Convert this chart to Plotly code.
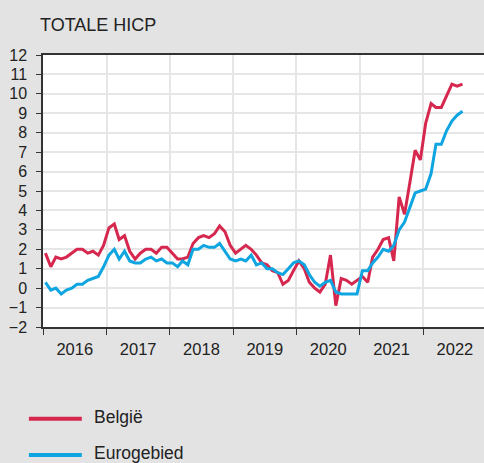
import plotly.graph_objects as go
import pandas as pd

# Monthly dates Jan 2016 - Aug 2022 (plotted at mid-month)
dates = pd.date_range("2016-01-01", periods=80, freq="MS") + pd.Timedelta(days=14)

belgie = [
    1.8, 1.1, 1.6, 1.5, 1.6, 1.8, 2.0, 2.0, 1.8, 1.9, 1.7, 2.2,   # 2016
    3.1, 3.3, 2.5, 2.7, 1.9, 1.5, 1.8, 2.0, 2.0, 1.8, 2.1, 2.1,   # 2017
    1.8, 1.5, 1.5, 1.6, 2.3, 2.6, 2.7, 2.6, 2.8, 3.2, 2.9, 2.2,   # 2018
    1.8, 2.0, 2.2, 2.0, 1.7, 1.3, 1.2, 0.9, 0.8, 0.2, 0.4, 0.9,   # 2019
    1.4, 1.0, 0.3, 0.0, -0.2, 0.2, 1.7, -0.9, 0.5, 0.4, 0.2, 0.4, # 2020
    0.6, 0.3, 1.6, 2.0, 2.5, 2.6, 1.4, 4.7, 3.8, 5.4, 7.1, 6.6,   # 2021
    8.5, 9.5, 9.3, 9.3, 9.9, 10.5, 10.4, 10.5,                    # 2022
]
eurogebied = [
    0.3, -0.1, 0.0, -0.3, -0.1, 0.0, 0.2, 0.2, 0.4, 0.5, 0.6, 1.1,  # 2016
    1.7, 2.0, 1.5, 1.9, 1.4, 1.3, 1.3, 1.5, 1.6, 1.4, 1.5, 1.3,     # 2017
    1.3, 1.1, 1.4, 1.2, 2.0, 2.0, 2.2, 2.1, 2.1, 2.3, 1.9, 1.5,     # 2018
    1.4, 1.5, 1.4, 1.7, 1.2, 1.3, 1.0, 1.0, 0.8, 0.7, 1.0, 1.3,     # 2019
    1.4, 1.2, 0.7, 0.3, 0.1, 0.3, 0.4, -0.2, -0.3, -0.3, -0.3, -0.3,# 2020
    0.9, 0.9, 1.3, 1.6, 2.0, 1.9, 2.2, 3.0, 3.4, 4.1, 4.9, 5.0,     # 2021
    5.1, 5.9, 7.4, 7.4, 8.1, 8.6, 8.9, 9.1,                         # 2022
]
series_names = ["België", "Eurogebied"]
series_colors = ["#d6274e", "#0ea5e0"]
title_text = "TOTALE HICP"

FONT = "Liberation Sans, Arial, sans-serif"
TXT = "#222222"

fig = go.Figure()
for name, vals, col in zip(series_names, [belgie, eurogebied], series_colors):
    fig.add_trace(go.Scatter(x=dates, y=vals, mode="lines", name=name,
                             line=dict(color=col, width=3), showlegend=False))

# Manual legend
leg_y = [-0.337, -0.471]
for name, col, yy in zip(series_names, series_colors, leg_y):
    fig.add_shape(type="line", xref="paper", yref="paper",
                  x0=-0.032, x1=0.088, y0=yy, y1=yy,
                  line=dict(color=col, width=4))
    fig.add_annotation(xref="paper", yref="paper", x=0.113, y=yy, yshift=2,
                       text=name, showarrow=False, xanchor="left", yanchor="middle",
                       borderpad=0,
                       font=dict(family=FONT, size=17.5, color=TXT))

fig.update_layout(
    width=484, height=463,
    paper_bgcolor="#e3e3e3", plot_bgcolor="#ffffff",
    margin=dict(l=43, r=0, t=55, b=136, autoexpand=False),
    title=dict(text=title_text, xref="container", yref="container",
               x=40/484, xanchor="left", y=1-24.5/463, yanchor="middle",
               font=dict(family=FONT, size=18, color=TXT)),
    font=dict(family=FONT, color=TXT),
)
fig.update_xaxes(
    type="date", range=["2016-01-01", "2022-12-17"], automargin=False,
    tick0="2016-01-01", dtick="M12", tickformat="%Y", ticklabelmode="period",
    showgrid=True, gridcolor="#e6e6e6", gridwidth=1.5,
    showline=True, linecolor="#333333", linewidth=1.5, mirror=True,
    ticks="outside", ticklen=6, tickcolor="#333333", tickwidth=1,
    tickfont=dict(family=FONT, size=16.5, color=TXT),
)
fig.update_yaxes(
    range=[-2, 12], dtick=1, tick0=0, automargin=False,
    showgrid=True, gridcolor="#e6e6e6", gridwidth=1.5, zeroline=False,
    showline=True, linecolor="#333333", linewidth=1.5,
    ticks="outside", ticklen=5, tickcolor="#333333", tickwidth=1,
    tickfont=dict(family=FONT, size=16, color=TXT),
    ticklabelstandoff=6,
)

fig.write_html("out.html", config={"displayModeBar": False},
               post_script="document.body.style.margin='0';document.body.style.overflow='hidden';")
